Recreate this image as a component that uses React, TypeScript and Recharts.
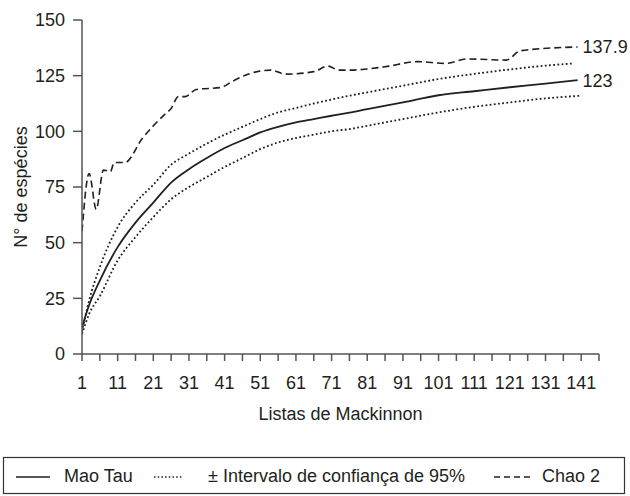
import React from 'react';
import { LineChart, Line, XAxis, YAxis, Label, LabelList } from 'recharts';

const xTicks = [1, 6, 11, 16, 21, 26, 31, 36, 41, 46, 51, 56, 61, 66, 71, 76, 81, 86, 91, 96, 101, 106, 111, 116, 121, 126, 131, 136, 141, 146];
const yTicks = [0, 25, 50, 75, 100, 125, 150];

const maoTauX = [1, 3, 6, 11, 16, 21, 26, 31, 36, 41, 46, 51, 56, 61, 66, 71, 76, 81, 91, 101, 111, 121, 131, 140];
const maoTauY = [12, 22, 33, 48, 59, 68, 77, 83, 88, 92.5, 96, 99.5, 102, 104, 105.5, 107, 108.4, 110, 113, 116.2, 118, 119.8, 121.4, 123];

const upperX = [1, 3, 6, 11, 16, 21, 26, 31, 36, 41, 46, 51, 56, 61, 66, 71, 76, 81, 91, 101, 111, 121, 131, 139];
const upperY = [10, 24, 39, 57, 68, 76, 85, 90, 94.5, 98.5, 102, 105.5, 108.5, 110.5, 112.5, 114.3, 116, 117.5, 120.5, 123.5, 125.8, 127.8, 129.5, 130.5];

const lowerX = [1, 3, 6, 11, 16, 21, 26, 31, 36, 41, 46, 51, 56, 61, 66, 71, 76, 81, 91, 101, 111, 121, 131, 141];
const lowerY = [9, 18, 26, 42, 52.5, 61.5, 69.5, 75, 79.5, 84, 88, 92, 95, 97, 98.5, 100, 101, 102.5, 105.5, 108.5, 111, 113, 114.8, 116];

const chaoX = [1, 3, 5, 7, 9, 10, 13, 18, 24, 26, 28, 30, 33, 40, 43, 47, 54, 58, 66, 70, 73, 76, 86, 95, 103, 109, 120, 124, 140];
const chaoY = [55, 81, 65, 82.6, 82, 86, 86, 97, 107.3, 110.3, 115.6, 115.6, 118.8, 119.7, 122.3, 125.3, 127.5, 125.7, 126.8, 129.3, 127.5, 127.5, 129, 131.3, 130.5, 132.5, 132, 136.2, 137.9];

const legendLabels = ['Mao Tau', '\u00B1 Intervalo de confian\u00E7a de 95%', 'Chao 2'];

const zip = (xs: number[], ys: number[]) => xs.map((x, i) => ({ x, y: ys[i] }));

const maoTau = zip(maoTauX, maoTauY);
const upper = zip(upperX, upperY);
const lower = zip(lowerX, lowerY);
const chao = zip(chaoX, chaoY);

const FONT = '"Liberation Sans", Arial, sans-serif';
const INK = '#231f20';
const AXIS = '#555';

const endLabel = (len: number) => (props: any) => {
  const { x, y, index, value } = props;
  if (index !== len - 1) return null;
  return (
    <text x={x + 5} y={y} dy="0.36em" fontSize={18} fontFamily={FONT} fill={INK}>
      {value}
    </text>
  );
};

const yLabel = () => (
  <text
    x={27}
    y={187}
    transform="rotate(-90, 27, 187)"
    textAnchor="middle"
    fontSize={18}
    fontFamily={FONT}
    fill={INK}
  >
    N° de espécies
  </text>
);

const Legend = () => (
  <svg
    width={630}
    height={496}
    style={{ position: 'absolute', left: 0, top: 0, pointerEvents: 'none' }}
  >
    <rect x={3.5} y={457.5} width={621} height={36} fill="none" stroke="#333" strokeWidth={1.2} />
    <line x1={16} y1={477} x2={50} y2={477} stroke={INK} strokeWidth={1.6} />
    <text x={64} y={481.5} fontSize={18} fontFamily={FONT} fill={INK}>{legendLabels[0]}</text>
    <line x1={154} y1={477} x2={183} y2={477} stroke={INK} strokeWidth={1.5} strokeDasharray="1.5 2.2" />
    <text x={208} y={481.5} fontSize={18} fontFamily={FONT} fill={INK}>{legendLabels[1]}</text>
    <line x1={494} y1={477} x2={531} y2={477} stroke={INK} strokeWidth={1.6} strokeDasharray="6 4" />
    <text x={542} y={481.5} fontSize={18} fontFamily={FONT} fill={INK}>{legendLabels[2]}</text>
  </svg>
);

export default function App() {
  return (
    <div style={{ position: 'absolute', left: 0, top: 0, width: 630, height: 496, background: '#fff' }}>
      <LineChart
        width={630}
        height={496}
        margin={{ top: 20, right: 31, bottom: 67, left: 0 }}
        style={{ fontFamily: FONT }}
      >
        <XAxis
          type="number"
          dataKey="x"
          domain={[1, 146]}
          ticks={xTicks}
          interval={0}
          allowDataOverflow
          tickSize={7}
          tickMargin={15}
          height={75}
          stroke={AXIS}
          strokeWidth={1.5}
          tick={{ fill: INK, fontSize: 18, fontFamily: FONT }}
          tickFormatter={(v: number) => ((v - 1) % 10 === 0 && v <= 141 ? String(v) : '')}
          label={{ value: 'Listas de Mackinnon', position: 'insideBottom', offset: 9, fill: INK, fontSize: 18, fontFamily: FONT }}
        />
        <YAxis
          type="number"
          domain={[0, 150]}
          ticks={yTicks}
          interval={0}
          width={82}
          tickSize={9}
          tickMargin={8}
          stroke={AXIS}
          strokeWidth={1.5}
          tick={{ fill: INK, fontSize: 18, fontFamily: FONT }}
        >
          <Label content={yLabel} />
        </YAxis>
        <Line
          data={upper}
          dataKey="y"
          type="monotone"
          stroke={INK}
          strokeWidth={1.8}
          strokeDasharray="1.8 2.4"
          dot={false}
          isAnimationActive={false}
        />
        <Line
          data={lower}
          dataKey="y"
          type="monotone"
          stroke={INK}
          strokeWidth={1.8}
          strokeDasharray="1.8 2.4"
          dot={false}
          isAnimationActive={false}
        />
        <Line
          data={maoTau}
          dataKey="y"
          type="monotone"
          stroke={INK}
          strokeWidth={1.8}
          dot={false}
          isAnimationActive={false}
        >
          <LabelList dataKey="y" content={endLabel(maoTau.length)} />
        </Line>
        <Line
          data={chao}
          dataKey="y"
          type="monotone"
          stroke={INK}
          strokeWidth={1.6}
          strokeDasharray="7 4"
          dot={false}
          isAnimationActive={false}
        >
          <LabelList dataKey="y" content={endLabel(chao.length)} />
        </Line>
      </LineChart>
      <Legend />
    </div>
  );
}
